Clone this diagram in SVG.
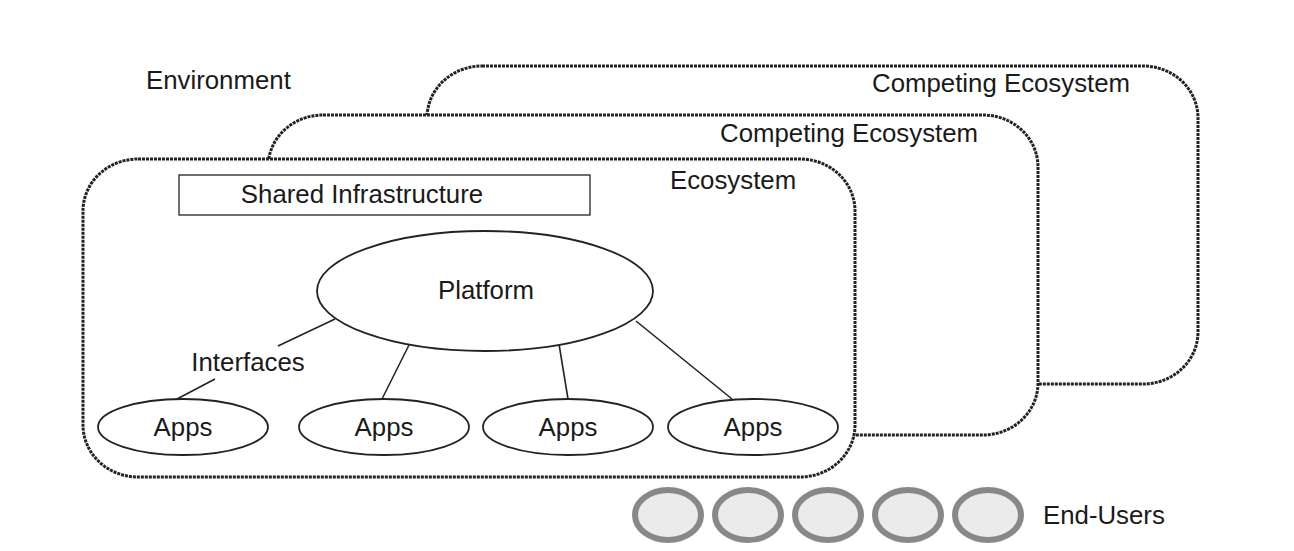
<svg xmlns="http://www.w3.org/2000/svg" width="1294" height="551" viewBox="0 0 1294 551">
<style>
.eco{fill:#fff;stroke:#222;stroke-width:3;stroke-dasharray:3 1}
.t{font-family:"Liberation Sans",Arial,sans-serif;font-size:25.8px;fill:#1a1a1a}
.m{text-anchor:middle}
.sh{fill:#fff;stroke:#222;stroke-width:1.3}
.ln{stroke:#222;stroke-width:1.6;fill:none}
.eu{fill:#ebebeb;stroke:#888;stroke-width:6}
</style>
<rect width="1294" height="551" fill="#fff"/>
<text class="t" x="146" y="89">Environment</text>
<g id="competing2">
<rect class="eco" x="427" y="66" width="771" height="318" rx="55" ry="52"/>
<text class="t" x="872" y="92">Competing Ecosystem</text>
</g>
<g id="competing1">
<rect class="eco" x="268" y="115" width="770" height="320" rx="55" ry="52"/>
<text class="t" x="720" y="142">Competing Ecosystem</text>
</g>
<g id="ecosystem">
<rect class="eco" x="83" y="159" width="772" height="318" rx="55" ry="52"/>
<text class="t" x="670" y="189">Ecosystem</text>
</g>
<g id="shared">
<rect class="sh" x="179" y="175" width="411" height="40"/>
<text class="t m" x="362" y="203">Shared Infrastructure</text>
</g>
<g id="connectors">
<line class="ln" x1="335" y1="319" x2="278" y2="346"/>
<line class="ln" x1="215" y1="379" x2="177" y2="399"/>
<line class="ln" x1="409" y1="345" x2="382" y2="399"/>
<line class="ln" x1="559" y1="344" x2="568" y2="399"/>
<line class="ln" x1="636" y1="321" x2="732" y2="399"/>
<text class="t m" x="248" y="371">Interfaces</text>
</g>
<g id="platform">
<ellipse class="sh" cx="485" cy="291" rx="168" ry="60" style="stroke-width:1.8"/>
<text class="t m" x="486" y="299">Platform</text>
</g>
<g id="apps1"><ellipse class="sh" cx="183" cy="427" rx="85" ry="28" style="stroke-width:1.8"/><text class="t m" x="183" y="436">Apps</text></g>
<g id="apps2"><ellipse class="sh" cx="384" cy="427" rx="85" ry="28" style="stroke-width:1.8"/><text class="t m" x="384" y="436">Apps</text></g>
<g id="apps3"><ellipse class="sh" cx="568" cy="427" rx="85" ry="28" style="stroke-width:1.8"/><text class="t m" x="568" y="436">Apps</text></g>
<g id="apps4"><ellipse class="sh" cx="753" cy="427" rx="85" ry="28" style="stroke-width:1.8"/><text class="t m" x="753" y="436">Apps</text></g>
<g id="endusers">
<ellipse class="eu" cx="668" cy="515" rx="33" ry="25"/>
<ellipse class="eu" cx="748" cy="515" rx="33" ry="25"/>
<ellipse class="eu" cx="828" cy="515" rx="33" ry="25"/>
<ellipse class="eu" cx="908" cy="515" rx="33" ry="25"/>
<ellipse class="eu" cx="988" cy="515" rx="33" ry="25"/>
<text class="t" x="1043" y="524">End-Users</text>
</g>
</svg>
